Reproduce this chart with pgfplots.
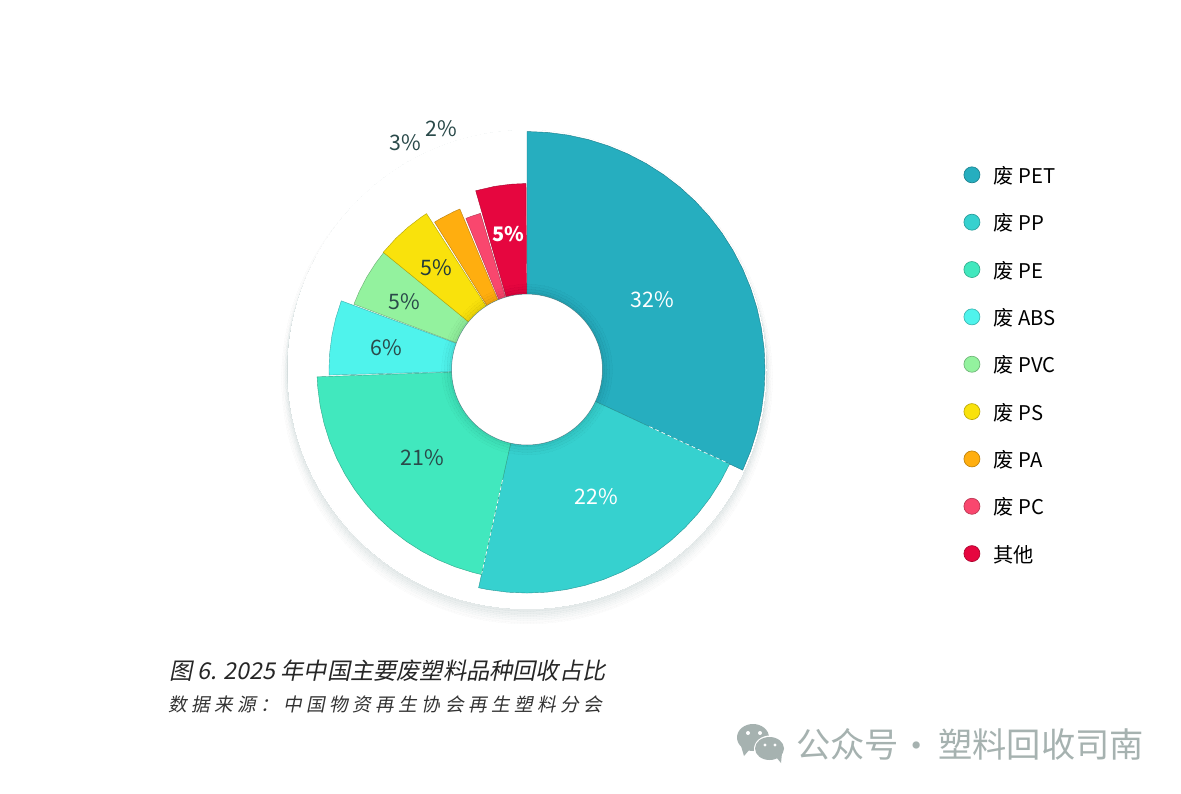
\documentclass[border=0pt]{standalone}
\usepackage{pgfplots}
\pgfplotsset{compat=1.18}
\usepgfplotslibrary{polar}
\usepackage{fontspec}
\setmainfont{Noto Sans CJK SC}
\newfontfamily\cjkit[FakeSlant=0.2]{Noto Sans CJK SC}
\newfontfamily\cjksrc[FakeSlant=0.2,LetterSpace=24]{Noto Sans CJK SC}
\definecolor{cPET}{HTML}{26AEBF}
\definecolor{cPP}{HTML}{36D1CF}
\definecolor{cPE}{HTML}{41E8BE}
\definecolor{cABS}{HTML}{4FF3EC}
\definecolor{cPVC}{HTML}{93F29E}
\definecolor{cPS}{HTML}{F9E20C}
\definecolor{cPA}{HTML}{FFAE0F}
\definecolor{cPC}{HTML}{F9476E}
\definecolor{cOT}{HTML}{E6063F}
\definecolor{shd}{HTML}{7F9FA0}
\definecolor{dlab}{HTML}{2A4A4A}
\definecolor{wm}{HTML}{A6B2B0}
\pgfplotsset{
 donutaxis/.style={
  at={(395.25pt,317.6pt)},anchor=center,
  scale only axis,width=360pt,height=360pt,
  xmin=0,xmax=360,ymin=0,ymax=240,
  hide axis,clip=false},
 wedge/.style={fill=#1,draw=#1!72!black,line width=0.3pt,
   legend image code/.code={\filldraw[fill=#1,draw=#1!75!black,line width=0.5pt] (0pt,0pt) circle (6pt);}},
 ring/.style 2 args={only marks,forget plot,mark=*,mark size=#1,
   mark options={draw=#2,fill=#2,line width=0pt}},
}
\begin{document}
\begin{tikzpicture}
\fill[white] (0,0) rectangle (885.75pt,594.75pt);
\useasboundingbox (0,0) rectangle (885.75pt,594.75pt);
% soft shadow and white plate
\begin{polaraxis}[donutaxis]
\addplot[ring={184pt}{shd},opacity=0.012] coordinates {(270,9)};
\addplot[ring={183pt}{shd},opacity=0.015] coordinates {(270,9)};
\addplot[ring={182pt}{shd},opacity=0.018] coordinates {(270,8)};
\addplot[ring={181.5pt}{shd},opacity=0.02] coordinates {(270,7)};
\addplot[ring={181pt}{shd},opacity=0.025] coordinates {(270,6)};
\addplot[ring={180.5pt}{shd},opacity=0.03] coordinates {(270,5)};
\addplot[ring={180pt}{shd},opacity=0.035] coordinates {(270,4)};
\addplot[ring={179.7pt}{shd},opacity=0.04] coordinates {(270,2)};
\addplot[ring={179.5pt}{shd},opacity=0.04] coordinates {(0,0)};
\addplot[ring={179.25pt}{white}] coordinates {(0,0)};
\end{polaraxis}
% wedges (angle, radius)
\begin{polaraxis}[donutaxis,
  legend cell align=left,
  legend style={at={(1.409,0.924)},anchor=north west,draw=none,fill=none,
    font=\fontsize{15.2pt}{18pt}\selectfont,
    row sep=22.7pt,inner sep=0pt,
    nodes={inner ysep=0pt,inner xsep=10pt,text depth=0pt}},
]
\addplot[wedge=cPET] coordinates {(90,0)(90,238)(85,238)(80,238)(75,238)(70,238)(65,238)(60,238)(55,238)(50,238)(45,238)(40,238)(35,238)(30,238)(25,238)(20,238)(15,238)(10,238)(5,238)(0,238)(-5,238)(-10,238)(-15,238)(-20,238)(-25,238)(-25,0)};
\addlegendentry{废 PET}
\addplot[wedge=cPP] coordinates {(-25,0)(-25,223.5)(-30,223.5)(-35,223.5)(-40,223.5)(-45,223.5)(-50,223.5)(-55,223.5)(-60,223.5)(-65,223.5)(-70,223.5)(-75,223.5)(-80,223.5)(-85,223.5)(-90,223.5)(-95,223.5)(-100,223.5)(-102.5,223.5)(-102.5,0)};
\addlegendentry{废 PP}
\addplot[wedge=cPE] coordinates {(-102.5,0)(-102.5,210)(-105,210)(-110,210)(-115,210)(-120,210)(-125,210)(-130,210)(-135,210)(-140,210)(-145,210)(-150,210)(-155,210)(-160,210)(-165,210)(-170,210)(-175,210)(-178,210)(-178,0)};
\addlegendentry{废 PE}
\addplot[wedge=cABS] coordinates {(-178.4,0)(-178.4,198)(-180,198)(-185,198)(-190,198)(-195,198)(-200.3,198)(-200.3,0)};
\addlegendentry{废 ABS}
\addplot[wedge=cPVC] coordinates {(-200.7,0)(-200.7,185)(-205,185)(-210,185)(-215,185)(-219.2,185)(-219.2,0)};
\addlegendentry{废 PVC}
\addplot[wedge=cPS] coordinates {(-219.2,0)(-219.2,185.5)(-225,185.5)(-230,185.5)(-235,185.5)(-237.2,185.5)(-237.2,0)};
\addlegendentry{废 PS}
\addplot[wedge=cPA] coordinates {(-237.9,0)(-237.9,174)(-240,174)(-245,174)(-247.3,174)(-247.3,0)};
\addlegendentry{废 PA}
\addplot[wedge=cPC] coordinates {(-248,0)(-248,163)(-250,163)(-253.4,163)(-252.5,0)};
\addlegendentry{废 PC}
\addplot[wedge=cOT] coordinates {(-254,0)(-254,186)(-260,186)(-265,186)(-269.7,186)(-269.7,0)};
\addlegendentry{其他}
% white dashes along two wedge borders
\addplot[forget plot,white,line width=0.5pt,densely dashed] coordinates {(-25,135)(-25,222)};
\addplot[forget plot,white,line width=0.5pt,densely dashed] coordinates {(-102.5,113)(-102.5,209)};
\end{polaraxis}
% darkening round the hole, then the hole
\begin{polaraxis}[donutaxis]
\addplot[ring={64pt}{black},opacity=0.012] coordinates {(0,0)};
\addplot[ring={62pt}{black},opacity=0.015] coordinates {(0,0)};
\addplot[ring={60pt}{black},opacity=0.02] coordinates {(0,0)};
\addplot[ring={58pt}{black},opacity=0.025] coordinates {(0,0)};
\addplot[only marks,forget plot,mark=*,mark size=56.6pt,mark options={draw=black!55!cPET,draw opacity=0.6,line width=0.4pt,fill=white}] coordinates {(0,0)};
\end{polaraxis}
\begin{scope}[x=0.75pt,y=-0.75pt,yshift=594.75pt]
\def\sz{\fontsize{16pt}{18pt}\selectfont}
\node[white,font=\sz] at (652,300) {32\%};
\node[white,font=\sz] at (596,497) {22\%};
\node[dlab,font=\sz] at (422,458) {21\%};
\node[dlab,font=\sz] at (386,348) {6\%};
\node[dlab,font=\sz] at (404,302) {5\%};
\node[dlab!80!black,font=\sz] at (436,268) {5\%};
\node[white,font=\fontsize{15pt}{18pt}\selectfont\bfseries] at (508.5,234) {5\%};
\node[dlab,font=\sz] at (405,143) {3\%};
\node[dlab,font=\sz] at (441,129) {2\%};
% captions
\node[anchor=west,inner sep=0pt,font=\fontsize{17.4pt}{20pt}\selectfont\cjkit,black!85] at (169,671) {图 6. 2025 年中国主要废塑料品种回收占比};
\node[anchor=west,inner sep=0pt,font=\fontsize{13.95pt}{16pt}\selectfont\cjksrc,black!80] at (168,704) {数据来源：中国物资再生协会再生塑料分会};
% watermark
\fill[wm] (753,737.5) ellipse (16 and 13.5);
\fill[wm] (741,746) -- (744,756) -- (750,749) -- cycle;
\fill[white] (770,749) ellipse (16 and 13.5);
\fill[wm] (769.5,748.5) ellipse (14.5 and 11.5);
\fill[wm] (776,757) -- (781,763) -- (782,753) -- cycle;
\fill[white] (748,733) circle (2); \fill[white] (760,733) circle (2);
\fill[white] (765,745) circle (1.7); \fill[white] (775,745) circle (1.7);
\node[anchor=west,inner sep=0pt,wm,font=\fontsize{25.7pt}{28pt}\selectfont] at (796,744) {公众号};
\node[inner sep=0pt,wm,font=\fontsize{25.7pt}{28pt}\selectfont] at (917,750) {·};
\node[anchor=west,inner sep=0pt,wm,font=\fontsize{25.7pt}{28pt}\selectfont] at (938,744) {塑料回收司南};
\end{scope}
\end{tikzpicture}
\end{document}
